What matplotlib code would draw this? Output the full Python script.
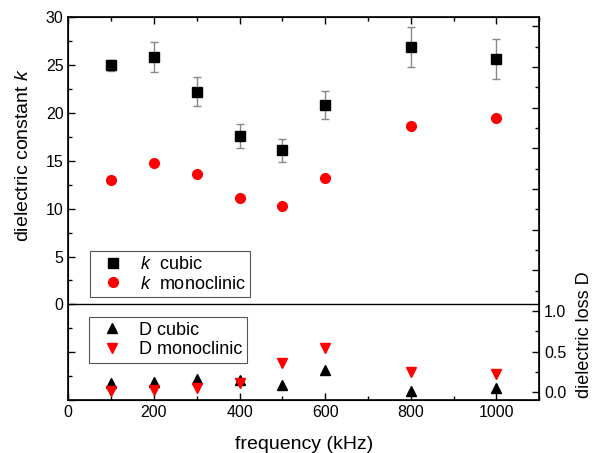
import matplotlib
matplotlib.use("Agg")
import matplotlib.pyplot as plt
from matplotlib.ticker import MultipleLocator, FuncFormatter

plt.rcParams["font.family"] = ["Liberation Sans", "DejaVu Sans"]
plt.rcParams["mathtext.fontset"] = "custom"
plt.rcParams["mathtext.rm"] = "Liberation Sans"
plt.rcParams["mathtext.it"] = "Liberation Sans:italic"

# frequency points (kHz)
freq = [100, 200, 300, 400, 500, 600, 800, 1000]

# dielectric constant k
k_cubic = [25.0, 25.9, 22.25, 17.6, 16.1, 20.85, 26.9, 25.65]
k_cubic_err = [0.6, 1.55, 1.5, 1.25, 1.2, 1.45, 2.1, 2.05]
k_mono = [13.0, 14.8, 13.6, 11.1, 10.25, 13.2, 18.7, 19.5]

# dielectric loss D
d_cubic = [0.11, 0.13, 0.16, 0.15, 0.085, 0.28, 0.02, 0.05]
d_mono = [0.01, 0.03, 0.05, 0.11, 0.36, 0.54, 0.25, 0.22]

fig = plt.figure(figsize=(5.95, 4.53), dpi=100)
ax = fig.add_axes([0.1148, 0.117, 0.7916, 0.8444])

ax.errorbar(freq, k_cubic, yerr=k_cubic_err, fmt="none",
            ecolor="#888888", elinewidth=1, capsize=3, capthick=1, zorder=2)
h1, = ax.plot(freq, k_cubic, "s", color="black", ms=6.5, label="$k$  cubic", zorder=3)
h2, = ax.plot(freq, k_mono, "o", color="red", ms=7, label="$k$  monoclinic", zorder=3)
ax.axhline(0, color="black", lw=1)

ax.set_xlim(0, 1100)
ax.set_ylim(-10, 30)
ax.xaxis.set_major_locator(MultipleLocator(200))
ax.xaxis.set_minor_locator(MultipleLocator(100))
ax.yaxis.set_major_locator(MultipleLocator(5))
ax.yaxis.set_minor_locator(MultipleLocator(2.5))
ax.yaxis.set_major_formatter(FuncFormatter(lambda v, p: f"{v:.0f}" if v >= 0 else ""))
ax.tick_params(which="both", direction="in", top=True, right=False, labelsize=11.5)
ax.tick_params(which="major", length=5, width=1)
ax.tick_params(which="minor", length=3, width=1)
for s in ax.spines.values():
    s.set_linewidth(1.2)

ax.set_xlabel("frequency (kHz)", fontsize=14)
ax.set_ylabel("dielectric constant $k$", fontsize=14)
ax.yaxis.set_label_coords(-0.077, 0.64)
ax.xaxis.set_label_coords(0.5, -0.095)

leg1 = ax.legend(handles=[h1, h2], loc="lower left", bbox_to_anchor=(0.046, 0.269),
                 borderaxespad=0, fancybox=False, edgecolor="#555555", framealpha=1,
                 fontsize=13, handletextpad=0.5, borderpad=0.25, labelspacing=0.15)
leg1.get_frame().set_linewidth(0.8)

ax2 = ax.twinx()
ax2.plot(freq, d_cubic, "^", color="black", ms=7.5, label="D cubic", zorder=3)
ax2.plot(freq, d_mono, "v", color="red", ms=7.5, label="D monoclinic", zorder=3)
ax2.set_ylim(-0.095, 4.61)
ax2.yaxis.set_major_locator(MultipleLocator(0.5))
ax2.yaxis.set_minor_locator(MultipleLocator(0.25))
ax2.yaxis.set_major_formatter(FuncFormatter(lambda v, p: f"{v:.1f}" if v <= 1.01 else ""))
ax2.tick_params(which="both", direction="in", labelsize=11.5)
ax2.tick_params(which="major", length=5, width=1)
ax2.tick_params(which="minor", length=3, width=1)
ax2.set_ylabel("dielectric loss D", fontsize=13)
ax2.yaxis.set_label_coords(1.078, 0.17)

leg2 = ax2.legend(loc="lower left", bbox_to_anchor=(0.044, 0.097), borderaxespad=0,
                  fancybox=False, edgecolor="#555555", framealpha=1, fontsize=13,
                  handletextpad=0.5, borderpad=0.25, labelspacing=0.15)
leg2.get_frame().set_linewidth(0.8)

fig.savefig("out.png", dpi=100)
